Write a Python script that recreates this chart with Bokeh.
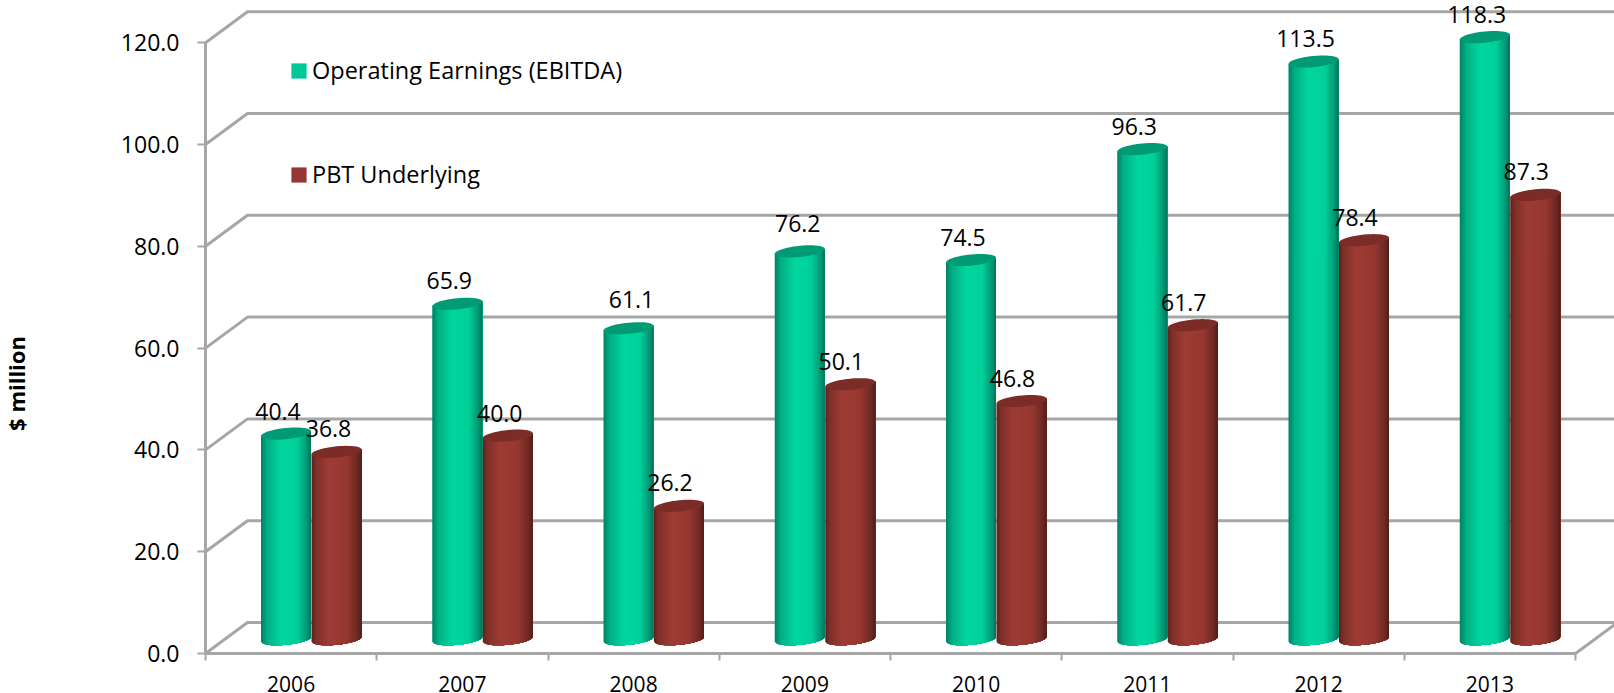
import numpy as np
from bokeh.embed import file_html
from bokeh.resources import INLINE
from bokeh.core.properties import value
from bokeh.models import (ColumnDataSource, FixedTicker, Label, Legend, LegendItem,
                          LinearAxis, NumeralTickFormatter, Range1d)
from bokeh.plotting import figure

years = ["2006", "2007", "2008", "2009", "2010", "2011", "2012", "2013"]
ebitda = [40.4, 65.9, 61.1, 76.2, 74.5, 96.3, 113.5, 118.3]
pbt = [36.8, 40.0, 26.2, 50.1, 46.8, 61.7, 78.4, 87.3]
y_ticks = [0, 20, 40, 60, 80, 100, 120]

# Hand placement of the value labels, in pixels from each cylinder's cap
ebitda_label_dx = [-8, -8, 3, -2, -8, -8, -8, -8]
ebitda_label_dy = [-22, -23, -29, -28, -23, -23, -23, -23]
pbt_label_dx = [-8, -8, -9, -9, -9, -9, -9, -9]
pbt_label_dy = [-23, -22, -23, -23, -23, -23, -23, -23]

FONT = "Open Sans"
GRID = "#a6a6a6"
PX_X = 171.25   # pixels per category
PX_Y = 5.09     # pixels per $ million
DEPTH_X = 42 / PX_X
DEPTH_Y = 31 / PX_Y
BASE = 2.8      # cylinders stand part-way into the floor
RADIUS = 25 / PX_X
CAP_RY = 5.6 / PX_Y
CAP_SKEW = 2.4 / PX_Y
N_STRIPS = 28
X_END = 1409 / PX_X

# The frame fills the whole canvas; both axes are pinned at the data origin
p = figure(width=1614, height=693, output_backend="svg", toolbar_location=None,
           x_axis_type=None, y_axis_type=None,
           x_range=Range1d(-205 / PX_X, X_END), y_range=Range1d(-40 / PX_Y, 653 / PX_Y),
           min_border=0, outline_line_color=None,
           background_fill_color="white", border_fill_color="white")
p.grid.visible = False

# Back wall and side wall gridlines, including the floor edge
xs, ys = [], []
for t in y_ticks:
    xs.append([0, DEPTH_X, X_END])
    ys.append([t, t + DEPTH_Y, t + DEPTH_Y])
xs.append([8, 8 + DEPTH_X])
ys.append([0, DEPTH_Y])
p.multi_line(xs, ys, line_color=GRID, line_width=3)

yaxis = LinearAxis(ticker=FixedTicker(ticks=y_ticks), bounds=(0, 120), fixed_location=0,
                   formatter=NumeralTickFormatter(format="0.0"))
yaxis.axis_line_color = GRID
yaxis.axis_line_width = 3
yaxis.major_tick_line_color = GRID
yaxis.major_tick_line_width = 2
yaxis.major_tick_in = 0
yaxis.major_tick_out = 8
yaxis.minor_tick_line_color = None
yaxis.major_label_text_font = FONT
yaxis.major_label_text_font_size = "23px"
yaxis.major_label_text_color = "black"
yaxis.major_label_standoff = 18
p.add_layout(yaxis, "left")

# Rotated unit caption at the far left edge of the canvas
p.add_layout(Label(x=(15 - 205) / PX_X, y=(653 - 383) / PX_Y, text="$ million",
                   angle=np.pi / 2, text_align="center", text_baseline="middle",
                   text_font=FONT, text_font_size="22px", text_font_style="bold",
                   text_color="black"))

# Year labels sit between the category boundary ticks
centers = [i + 0.5 for i in range(len(years))]
xaxis = LinearAxis(ticker=FixedTicker(ticks=centers, minor_ticks=list(range(len(years) + 1))),
                   bounds=(0, len(years)), fixed_location=0)
xaxis.major_label_overrides = {c: y for c, y in zip(centers, years)}
xaxis.axis_line_color = GRID
xaxis.axis_line_width = 3
xaxis.major_tick_line_color = None
xaxis.major_tick_in = 0
xaxis.major_tick_out = 0
xaxis.minor_tick_line_color = GRID
xaxis.minor_tick_line_width = 2
xaxis.minor_tick_in = 0
xaxis.minor_tick_out = 7
xaxis.major_label_text_font = FONT
xaxis.major_label_text_font_size = "21px"
xaxis.major_label_text_color = "black"
xaxis.major_label_standoff = 15
p.add_layout(xaxis, "below")


def shade(u, stops, colors):
    """Colour of the cylinder surface at horizontal position u in [-1, 1]."""
    rgb = [np.interp(u, stops, [c[k] for c in colors]) for k in range(3)]
    return "#%02x%02x%02x" % tuple(int(round(v)) for v in rgb)


def cylinder(cx, val, stops, colors, cap_color):
    # Each strip runs to the right edge, so later strips paint over any seam
    edges = np.linspace(-1, 1, N_STRIPS + 1)
    sx, sy, sc = [], [], []
    for a, b in zip(edges[:-1], edges[1:]):
        us = np.linspace(a, 1, 40)
        low = BASE - CAP_RY * np.sqrt(1 - us ** 2) + CAP_SKEW * us
        high = BASE + val + CAP_SKEW * us
        sx.append(list(cx + RADIUS * us) + list(cx + RADIUS * us[::-1]))
        sy.append(list(low) + list(high[::-1]))
        sc.append(shade((a + b) / 2, stops, colors))
    p.patches(sx, sy, fill_color=sc, line_color=None)
    t = np.linspace(0, 2 * np.pi, 49)
    p.patch(cx + RADIUS * np.cos(t),
            BASE + val + CAP_RY * np.sin(t) + CAP_SKEW * np.cos(t),
            fill_color=cap_color, line_color=None)


GREEN_STOPS = [-1, -0.75, -0.2, 0.45, 0.85, 1]
GREEN_COLS = [(0, 128, 100), (0, 175, 132), (0, 214, 158), (0, 208, 154), (0, 150, 115), (0, 112, 88)]
RED_STOPS = [-1, -0.8, -0.3, 0.4, 0.85, 1]
RED_COLS = [(92, 34, 30), (128, 48, 42), (158, 60, 52), (150, 56, 48), (108, 40, 35), (78, 28, 25)]

GREEN_X = 80.5 / PX_X
RED_X = 131 / PX_X
for i in range(len(years)):
    cylinder(i + GREEN_X, ebitda[i], GREEN_STOPS, GREEN_COLS, "#009a74")
    cylinder(i + RED_X, pbt[i], RED_STOPS, RED_COLS, "#7c2c27")

for offset, vals, dx, dy in ((GREEN_X, ebitda, ebitda_label_dx, ebitda_label_dy),
                             (RED_X, pbt, pbt_label_dx, pbt_label_dy)):
    src = ColumnDataSource(dict(x=[i + offset for i in range(len(years))],
                                y=[BASE + v for v in vals],
                                t=["%.1f" % v for v in vals],
                                dx=dx, dy=dy))
    p.text("x", "y", text="t", source=src, x_offset="dx", y_offset="dy",
           text_align="center", text_baseline="middle", text_color="black",
           text_font=value(FONT), text_font_size="23px")

# Legend swatches: quads parked left of the canvas supply the colours
r1 = p.quad(left=[-3], right=[-2], top=[1], bottom=[0], fill_color="#00c896", line_color=None)
r2 = p.quad(left=[-3], right=[-2], top=[1], bottom=[0], fill_color="#953735", line_color=None)
legend = Legend(items=[LegendItem(label="Operating Earnings (EBITDA)", renderers=[r1]),
                       LegendItem(label="PBT Underlying", renderers=[r2])],
                location=(289, 503), orientation="vertical",
                background_fill_alpha=0, border_line_color=None,
                glyph_width=19, glyph_height=19, label_standoff=4, spacing=72,
                padding=0, margin=0, label_text_font=FONT, label_text_font_size="23.5px",
                label_text_color="black")
p.add_layout(legend, "center")

open("out.html", "w").write(file_html(p, INLINE))
